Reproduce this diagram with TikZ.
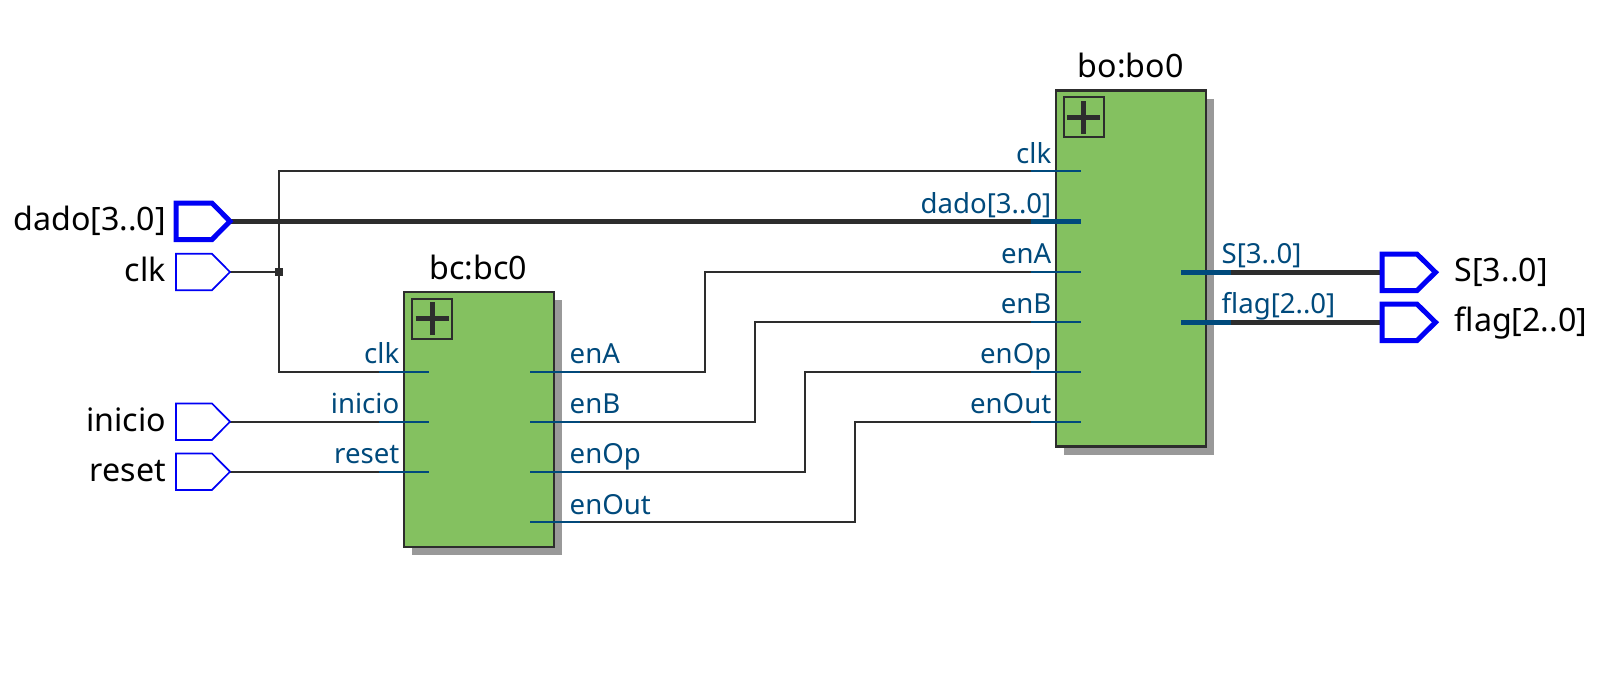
\documentclass[tikz,border=0pt]{standalone}
\usepackage{fontspec}
\setmainfont{Noto Sans}
\definecolor{wirec}{HTML}{2D2D2D}
\definecolor{portc}{HTML}{004A7C}
\definecolor{blockc}{HTML}{84C160}
\definecolor{shadowc}{HTML}{999999}
\definecolor{pinc}{HTML}{0000F5}
\tikzset{
  wire/.style={draw=wirec,line width=1.9pt},
  bus/.style={draw=wirec,line width=4.4pt},
  stub/.style={draw=portc,line width=1.9pt},
  busstub/.style={draw=portc,line width=4.4pt},
  pinthin/.style={draw=pinc,fill=white,line width=1.7pt,line join=miter},
  pinbus/.style={draw=pinc,fill=white,line width=5pt,line join=miter},
  block/.style={draw=wirec,fill=blockc,line width=2.2pt,rectangle,inner sep=0pt},
  shadowbox/.style={fill=shadowc,rectangle,inner sep=0pt},
  plusbox/.style={draw=wirec,line width=1.9pt,rectangle,inner sep=0pt,minimum width=40pt,minimum height=40pt},
  pintext/.style={font=\fontsize{32.2}{36}\selectfont,text=black,anchor=base east,inner sep=0pt},
  outtext/.style={font=\fontsize{32.2}{36}\selectfont,text=black,anchor=base west,inner sep=0pt},
  title/.style={font=\fontsize{32.2}{36}\selectfont,text=black,anchor=base,inner sep=0pt},
  portl/.style={font=\fontsize{27.6}{30}\selectfont,text=portc,anchor=base east,inner sep=0pt},
  portr/.style={font=\fontsize{27.6}{30}\selectfont,text=portc,anchor=base west,inner sep=0pt},
}
% input pin: tip at (x,y)
\newcommand{\inpin}[4]{%
  \coordinate (#2) at (#3,#4);
  \draw[#1] (#2) ++(-18,-18.2) -- ++(18,18.2) -- ++(-18,18.2) -- ++(-36,0) -- ++(0,-36.4) -- cycle;
}
% output pin: left mid at (x,y)
\newcommand{\outpin}[4]{%
  \coordinate (#2) at (#3,#4);
  \draw[#1] (#2) ++(0,-18.2) -- ++(35,0) -- ++(18.5,18.2) -- ++(-18.5,18.2) -- ++(-35,0) -- cycle;
}
% plus sign at a named centre
\newcommand{\plussign}[1]{%
  \node[plusbox] (#1) at (#1c) {};
  \draw[draw=wirec,line width=5pt] ([xshift=-16.5pt]#1.center) -- ([xshift=16.5pt]#1.center);
  \draw[draw=wirec,line width=5pt] ([yshift=-16.5pt]#1.center) -- ([yshift=16.5pt]#1.center);
}
\begin{document}
\begin{tikzpicture}[x=1pt,y=-1pt]
\useasboundingbox (0,0) rectangle (1597,677);
\fill[white] (0,0) rectangle (1597,677);

% blocks
\node[shadowbox,minimum width=150pt,minimum height=255pt] (bcs) at (487,427.5) {};
\node[block,minimum width=150pt,minimum height=255pt] (bc) at (479,419.5) {};
\node[shadowbox,minimum width=150pt,minimum height=356pt] (bos) at (1139,277) {};
\node[block,minimum width=150pt,minimum height=356pt] (bo) at (1131,268.5) {};
\coordinate (plusAc) at (432,318.7);
\coordinate (plusBc) at (1083.7,117.3);
\plussign{plusA}
\plussign{plusB}

% wires' anchor points on pins
\coordinate (pdadoT) at (230,221.3);
\coordinate (pSL) at (1382,272.3);
\coordinate (pflagL) at (1382,322.3);

% port coordinates: bc
\foreach \n/\y in {clk/371.7,inicio/421.7,reset/471.7}{
  \coordinate (bcL\n) at (379,\y);
  \coordinate (bcI\n) at (429,\y);
}
\foreach \n/\y in {enA/371.7,enB/421.7,enOp/471.7,enOut/522}{
  \coordinate (bcO\n) at (580,\y);
  \coordinate (bcJ\n) at (530,\y);
}
% port coordinates: bo
\foreach \n/\y in {clk/171,dado/221.3,enA/271.7,enB/321.7,enOp/371.7,enOut/421.7}{
  \coordinate (boL\n) at (1031,\y);
  \coordinate (boI\n) at (1081,\y);
}
\coordinate (boOS) at (1231,272.3);
\coordinate (boJS) at (1181,272.3);
\coordinate (boOf) at (1231,322.3);
\coordinate (boJf) at (1181,322.3);
\coordinate (jn) at (279,272);
\coordinate (pclk) at (230,272);
\coordinate (pinicio) at (230,421.7);
\coordinate (preset) at (230,471.7);

% wires
\draw[wire] (pclk) -- (jn);
\draw[wire] (boLclk) -| (jn) |- (bcLclk);
\draw[bus] (pdadoT) -- (boLdado);
\draw[wire] (pinicio) -- (bcLinicio);
\draw[wire] (preset) -- (bcLreset);
\draw[wire] (bcOenA) -- (705,371.7) -- (705,271.7) -- (boLenA);
\draw[wire] (bcOenB) -- (755,421.7) -- (755,321.7) -- (boLenB);
\draw[wire] (bcOenOp) -- (805,471.7) -- (805,371.7) -- (boLenOp);
\draw[wire] (bcOenOut) -- (855,522) -- (855,421.7) -- (boLenOut);
\draw[bus] (boOS) -- (pSL);
\draw[bus] (boOf) -- (pflagL);
\node[fill=wirec,minimum size=8pt,inner sep=0pt,rectangle] (junction) at (jn) {};

% pins
\inpin{pinbus}{pdado}{230}{221.3}
\inpin{pinthin}{pclkpin}{230}{272}
\inpin{pinthin}{pinipin}{230}{421.7}
\inpin{pinthin}{prstpin}{230}{471.7}
\outpin{pinbus}{pS}{1382}{272.3}
\outpin{pinbus}{pflag}{1382}{322.3}

% port stubs
\foreach \n in {clk,inicio,reset}{\draw[stub] (bcL\n) -- (bcI\n);}
\foreach \n in {enA,enB,enOp,enOut}{\draw[stub] (bcO\n) -- (bcJ\n);}
\foreach \n in {clk,enA,enB,enOp,enOut}{\draw[stub] (boL\n) -- (boI\n);}
\draw[busstub] (boLdado) -- (boIdado);
\draw[busstub] (boOS) -- (boJS);
\draw[busstub] (boOf) -- (boJf);

% titles
\node[title] (tbc) at (478.5,279) {bc:bc0};
\node[title] (tbo) at (1130.7,77.3) {bo:bo0};

% pin labels
\node[pintext] (ldado) at (166,230.5) {dado[3..0]};
\node[pintext] (lclk) at (166,281) {clk};
\node[pintext] (linicio) at (166,431) {inicio};
\node[pintext] (lreset) at (166,481) {reset};
\node[outtext] (lS) at (1454.5,281) {S[3..0]};
\node[outtext] (lflag) at (1454.5,331) {flag[2..0]};

% port labels bc
\node[portl] (a1) at (399.5,363) {clk};
\node[portl] (a2) at (399.5,413) {inicio};
\node[portl] (a3) at (399.5,463) {reset};
\node[portr] (a4) at (569.5,363) {enA};
\node[portr] (a5) at (569.5,413) {enB};
\node[portr] (a6) at (569.5,463) {enOp};
\node[portr] (a7) at (569.5,514) {enOut};
% port labels bo
\node[portl] (b1) at (1051.5,163) {clk};
\node[portl] (b2) at (1051.5,213) {dado[3..0]};
\node[portl] (b3) at (1051.5,263) {enA};
\node[portl] (b4) at (1051.5,313) {enB};
\node[portl] (b5) at (1051.5,363) {enOp};
\node[portl] (b6) at (1051.5,413) {enOut};
\node[portr] (b7) at (1221.5,263) {S[3..0]};
\node[portr] (b8) at (1221.5,313) {flag[2..0]};
\end{tikzpicture}
\end{document}
